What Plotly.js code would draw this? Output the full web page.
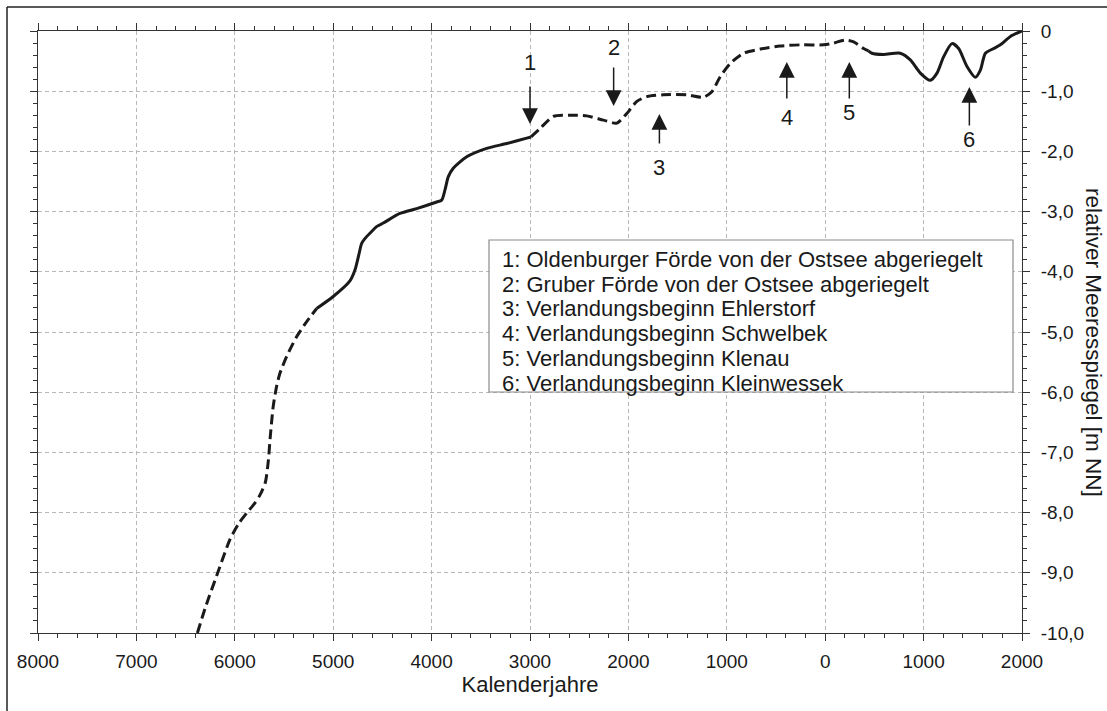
<!DOCTYPE html>
<html>
<head>
<meta charset="utf-8">
<script src="https://cdn.plot.ly/plotly-3.0.1.min.js"></script>
<style>html,body{margin:0;padding:0;background:#fff;}#chart{width:1107px;height:711px;}</style>
</head>
<body>
<div id="chart"></div>
<script>
// ---- Data (years: negative = BC) ----
const yearsDashedEarly = [-6380, -6300, -6169, -6050, -5960, -5881, -5800, -5745, -5690, -5660, -5640, -5610, -5576, -5542, -5474, -5372, -5271, -5168];
const levelDashedEarly = [-10, -9.58, -8.98, -8.45, -8.18, -8.01, -7.85, -7.71, -7.5, -7.15, -6.75, -6.24, -5.91, -5.69, -5.41, -5.08, -4.83, -4.61];

const yearsSolidMid = [-5168, -5000, -4830, -4779, -4740, -4711, -4678, -4627, -4559, -4491, -4322, -4152, -3948, -3898, -3864, -3830, -3780, -3643, -3440, -3237, -3033, -2990];
const levelSolidMid = [-4.61, -4.41, -4.15, -3.97, -3.72, -3.53, -3.45, -3.36, -3.25, -3.19, -3.03, -2.95, -2.84, -2.81, -2.64, -2.42, -2.28, -2.09, -1.95, -1.87, -1.78, -1.76];

const yearsDashedLate = [-2990, -2898, -2763, -2593, -2423, -2254, -2118, -2016, -1914, -1812, -1644, -1406, -1237, -1152, -1067, -965, -830, -660, -457, -254, -17, 85, 204, 289, 390, 440];
const levelDashedLate = [-1.76, -1.62, -1.42, -1.40, -1.41, -1.48, -1.53, -1.37, -1.17, -1.09, -1.06, -1.06, -1.10, -1.01, -0.76, -0.54, -0.37, -0.30, -0.25, -0.23, -0.23, -0.20, -0.15, -0.18, -0.29, -0.33];

const yearsSolidRecent = [440, 475, 593, 763, 865, 967, 1068, 1136, 1203, 1288, 1356, 1441, 1526, 1577, 1628, 1713, 1780, 1882, 1984, 2000];
const levelSolidRecent = [-0.33, -0.37, -0.39, -0.37, -0.48, -0.70, -0.82, -0.70, -0.43, -0.21, -0.29, -0.59, -0.77, -0.65, -0.37, -0.29, -0.23, -0.09, -0.01, 0];

// event markers
const markerLabels = ['1', '2', '3', '4', '5', '6'];
const markerYears = [-3000, -2150, -1685, -390, 245, 1465];
const markerTipLevels = [-1.545, -1.246, -1.379, -0.515, -0.515, -0.93];
const markerTailLevels = [-0.897, -0.581, -1.894, -1.146, -1.146, -1.595];
const markerLabelLevels = [-0.515, -0.28, -2.26, -1.43, -1.36, -1.81];

const legendLines = [
  '1: Oldenburger Förde von der Ostsee abgeriegelt',
  '2: Gruber Förde von der Ostsee abgeriegelt',
  '3: Verlandungsbeginn Ehlerstorf',
  '4: Verlandungsbeginn Schwelbek',
  '5: Verlandungsbeginn Klenau',
  '6: Verlandungsbeginn Kleinwessek'
];

const xTickVals = [-8000, -7000, -6000, -5000, -4000, -3000, -2000, -1000, 0, 1000, 2000];
const xTickText = ['8000', '7000', '6000', '5000', '4000', '3000', '2000', '1000', '0', '1000', '2000'];
const yTickVals = [0, -1, -2, -3, -4, -5, -6, -7, -8, -9, -10];
const yTickText = ['0', '-1,0', '-2,0', '-3,0', '-4,0', '-5,0', '-6,0', '-7,0', '-8,0', '-9,0', '-10,0'];

const xTitle = 'Kalenderjahre';
const yTitle = 'relativer Meeresspiegel [m NN]';

// ---- Layout helpers (pixel -> paper) ----
const W = 1107, H = 711;
const M = {l: 38, r: 85, t: 31, b: 78};
const PW = W - M.l - M.r, PH = H - M.t - M.b;
const px = v => (v - M.l) / PW;
const py = v => (H - M.b - v) / PH;

const FONT = 'Liberation Sans, Arial, sans-serif';
const INK = '#1a1a1a';

function seg(x, y, dash) {
  return {x: x, y: y, type: 'scatter', mode: 'lines', hoverinfo: 'skip',
    line: {color: INK, width: 3, dash: dash, shape: 'spline', smoothing: 0.7}, showlegend: false};
}

const traces = [
  seg(yearsDashedEarly, levelDashedEarly, '10px,5px'),
  seg(yearsSolidMid, levelSolidMid, 'solid'),
  seg(yearsDashedLate, levelDashedLate, '10px,5px'),
  seg(yearsSolidRecent, levelSolidRecent, 'solid')
];

const annotations = [];
markerLabels.forEach((lab, i) => {
  annotations.push({x: markerYears[i], y: markerTipLevels[i], xref: 'x', yref: 'y',
    ax: markerYears[i], ay: markerTailLevels[i], axref: 'x', ayref: 'y',
    text: '', showarrow: true, arrowhead: 2, arrowsize: 2.1, arrowwidth: 1.5,
    arrowcolor: INK, standoff: 0, startstandoff: 0});
  annotations.push({x: markerYears[i], y: markerLabelLevels[i], xref: 'x', yref: 'y',
    text: lab, showarrow: false, font: {family: FONT, size: 22, color: INK},
    xanchor: 'center', yanchor: 'middle'});
});
legendLines.forEach((t, i) => {
  annotations.push({x: px(500), y: py(259.5 + 24.7 * i), xref: 'paper', yref: 'paper',
    text: t, showarrow: false, xanchor: 'left', yanchor: 'middle',
    font: {family: FONT, size: 22, color: INK}});
});
annotations.push({x: px(1094), y: py(342), xref: 'paper', yref: 'paper', text: yTitle,
  showarrow: false, textangle: 90, xanchor: 'center', yanchor: 'middle',
  font: {family: FONT, size: 22.5, color: INK}});

const shapes = [
  {type: 'rect', xref: 'paper', yref: 'paper', x0: px(489), x1: px(1013), y0: py(240), y1: py(392),
    fillcolor: '#ffffff', line: {color: '#8a8a8a', width: 1.2}, layer: 'above'},
  {type: 'line', xref: 'paper', yref: 'paper', x0: px(7), x1: px(1107), y0: py(7), y1: py(7),
    line: {color: '#222', width: 1.5}},
  {type: 'line', xref: 'paper', yref: 'paper', x0: px(7), x1: px(7), y0: py(7), y1: py(711),
    line: {color: '#222', width: 1.5}}
];

const axisCommon = {
  showline: true, linecolor: '#333', linewidth: 1, mirror: 'ticks',
  ticks: 'outside', ticklen: 7, tickwidth: 1, tickcolor: '#333',
  showgrid: true, gridcolor: '#b8b8b8', gridwidth: 1, griddash: '4px,3px',
  zeroline: false, tickfont: {family: FONT, size: 19, color: INK},
  fixedrange: true, tickmode: 'array'
};

const layout = {
  width: W, height: H, margin: M,
  paper_bgcolor: '#ffffff', plot_bgcolor: '#ffffff',
  showlegend: false,
  xaxis: Object.assign({}, axisCommon, {
    range: [-8000, 2000], tickvals: xTickVals, ticktext: xTickText,
    ticklabelstandoff: 4,
    minor: {tickmode: 'linear', tick0: 0, dtick: 200, ticks: 'outside', ticklen: 4, tickcolor: '#333', showgrid: false},
    title: {text: xTitle, font: {family: FONT, size: 22, color: INK}, standoff: 5}
  }),
  yaxis: Object.assign({}, axisCommon, {
    range: [-10, 0], side: 'right', tickvals: yTickVals, ticktext: yTickText,
    ticklabelstandoff: 7,
    minor: {tickmode: 'linear', tick0: 0, dtick: 0.2, ticks: 'outside', ticklen: 4, tickcolor: '#333', showgrid: false}
  }),
  annotations: annotations,
  shapes: shapes
};

Plotly.newPlot('chart', traces, layout, {displayModeBar: false, staticPlot: true});
</script>
</body>
</html>
